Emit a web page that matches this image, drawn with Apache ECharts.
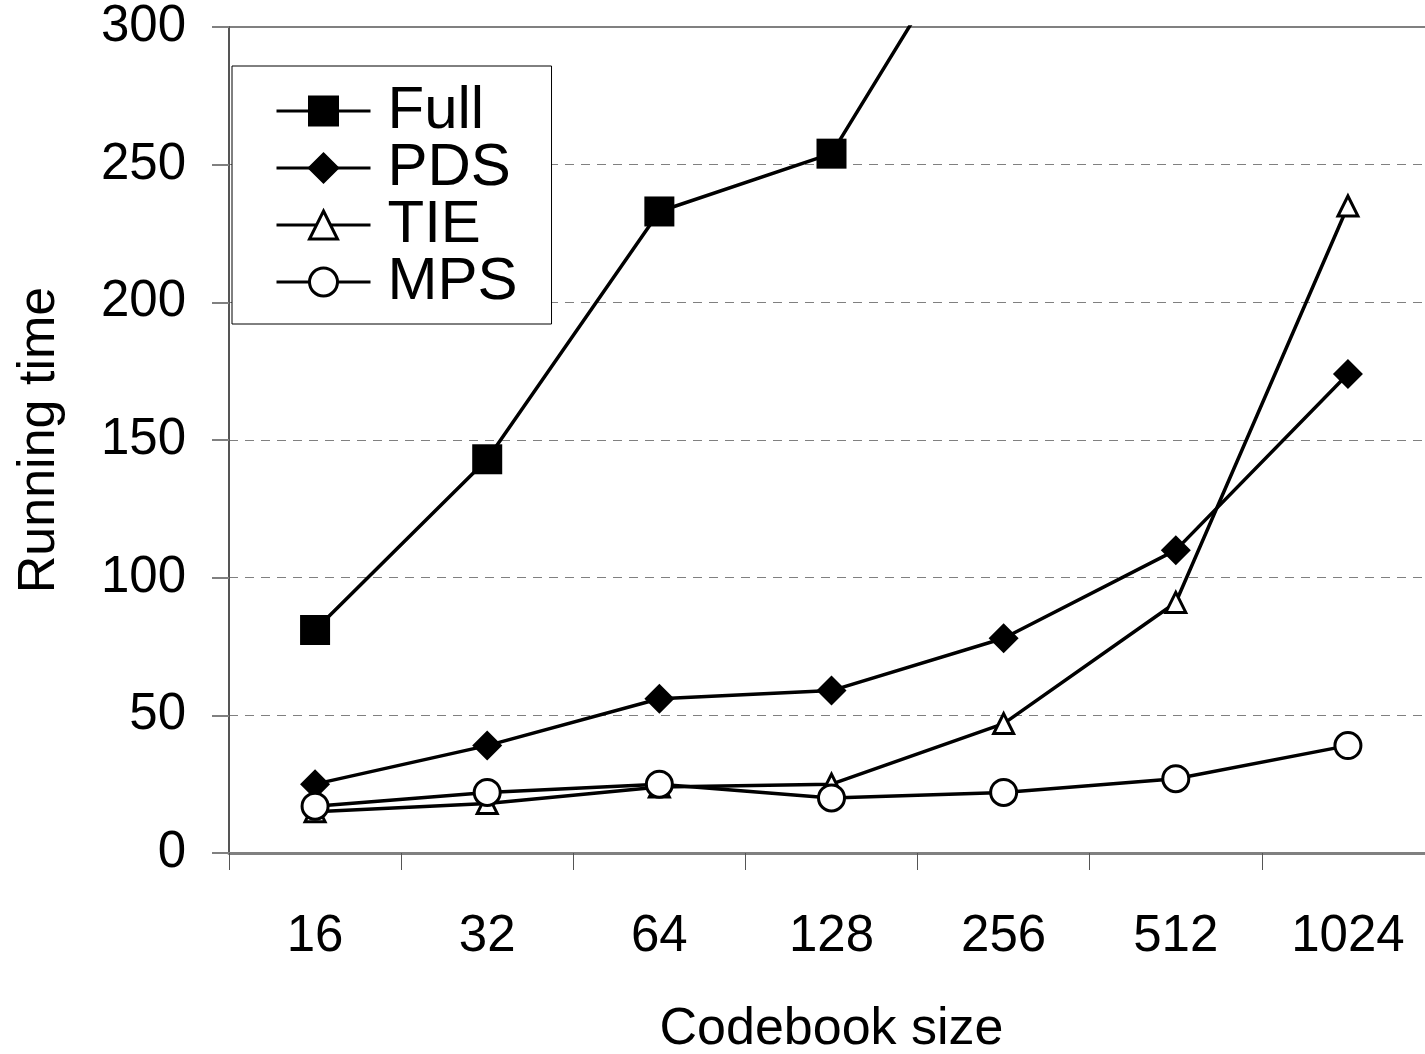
<!DOCTYPE html>
<html>
<head>
<meta charset="utf-8">
<script src="https://cdn.jsdelivr.net/npm/echarts@6/dist/echarts.min.js"></script>
<style>
  html, body { margin: 0; padding: 0; background: #fff; }
  #main { width: 1425px; height: 1054px; }
</style>
</head>
<body>
<div id="main"></div>
<script>
  "use strict";
  // codebook sizes (x categories)
  var codebook = ["16", "32", "64", "128", "256", "512", "1024"];
  // running time per method
  var fullTime = [81, 143, 233, 254, 356, null, null];
  var pdsTime = [25, 39, 56, 59, 78, 110, 174];
  var tieTime = [15, 18, 24, 25, 47, 91, 235];
  var mpsTime = [17, 22, 25, 20, 22, 27, 39];

  var font = "'Liberation Sans', Arial, sans-serif";
  var chart = echarts.init(document.getElementById("main"));

  function lineSeries(name, data, symbol, size, filled) {
    return {
      name: name,
      type: "line",
      data: data,
      symbol: symbol,
      symbolSize: size,
      showAllSymbol: true,
      clip: true,
      lineStyle: {color: "#000", width: 3.5},
      itemStyle: {
        color: filled ? "#000" : "#fff",
        borderColor: "#000",
        borderWidth: filled ? 0 : 3
      },
      emphasis: {disabled: true},
      z: filled ? 3 : 4
    };
  }

  chart.setOption({
    animation: false,
    backgroundColor: "#fff",
    grid: {
      left: 229, top: 27, right: -9, bottom: 201,
      outerBoundsMode: "none",
      containLabel: false,
      show: true, borderColor: "#808080", borderWidth: 2
    },
    legend: {
      orient: "vertical",
      left: 232, top: 66,
      padding: [15, 34, 12, 43],
      itemWidth: 94, itemHeight: 35,
      itemGap: -3, itemTextGap: 20,
      borderColor: "#000", borderWidth: 1,
      backgroundColor: "#fff",
      lineStyle: {width: 3, color: "#000"},
      itemStyle: {borderWidth: 3, borderColor: "#000"},
      textStyle: {
        fontFamily: font, fontSize: 60, color: "#000", lineHeight: 58,
        padding: [0, 0, 0, 12]
      },
      data: ["Full", "PDS", "TIE", "MPS"]
    },
    xAxis: {
      type: "category",
      data: codebook,
      boundaryGap: true,
      name: "Codebook size",
      nameLocation: "middle",
      nameGap: 151,
      nameTextStyle: {fontFamily: font, fontSize: 52, color: "#000"},
      axisLine: {lineStyle: {color: "#808080", width: 3}},
      axisTick: {show: true, length: 17, lineStyle: {color: "#555", width: 1}},
      axisLabel: {fontFamily: font, fontSize: 51, color: "#000", margin: 58},
      splitLine: {show: false}
    },
    yAxis: {
      type: "value",
      min: 0, max: 300, interval: 50,
      name: "Running time",
      nameLocation: "middle",
      nameGap: 163,
      nameTextStyle: {fontFamily: font, fontSize: 52, color: "#000"},
      axisLine: {show: true, lineStyle: {color: "#555", width: 2}},
      axisTick: {show: true, length: 17, lineStyle: {color: "#808080", width: 2}},
      axisLabel: {fontFamily: font, fontSize: 51, color: "#000", margin: 43},
      splitLine: {show: true, lineStyle: {color: "#808080", width: 1, type: [9, 7]}}
    },
    series: [
      lineSeries("Full", fullTime, "rect", 30, true),
      lineSeries("PDS", pdsTime, "diamond", 30, true),
      lineSeries("TIE", tieTime, "triangle", 20, false),
      lineSeries("MPS", mpsTime, "circle", 26, false)
    ]
  });
</script>
</body>
</html>
